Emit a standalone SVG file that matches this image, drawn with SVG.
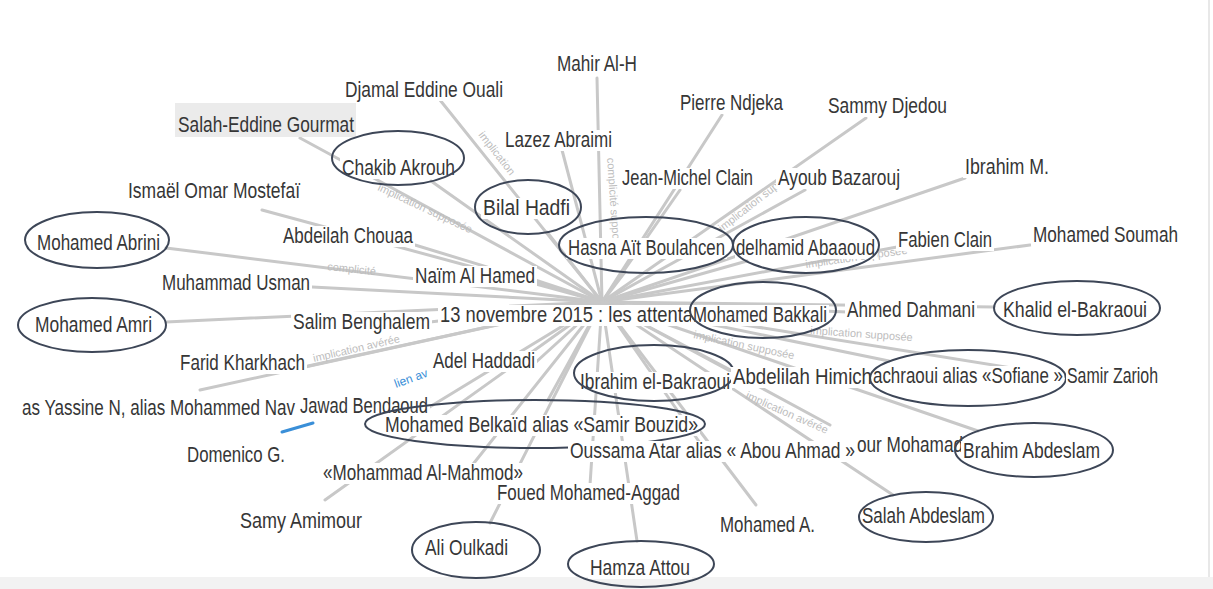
<svg xmlns="http://www.w3.org/2000/svg" width="1213" height="589" viewBox="0 0 1213 589">
<style>
.t{font-family:"Liberation Sans",Arial,sans-serif;font-size:22px;fill:#363636}
.bg{fill:#fff}
.hl{fill:#ebebeb}
.e{fill:none;stroke:#3d4657;stroke-width:2}
.c line{stroke:#c8c8c8;stroke-width:3;stroke-linecap:round}
.c line.b{stroke:#3a8fd8}
.el{font-family:"Liberation Sans",Arial,sans-serif;font-size:11px;fill:#bdbdbd}
.el.b{fill:#3a8fd8;font-size:12px}
</style>
<rect width="1213" height="589" fill="#fff"/>
<rect x="0" y="577" width="1213" height="12" fill="#f2f2f2"/>
<line x1="1209" y1="0" x2="1209" y2="577" stroke="#e8e8e8" stroke-width="2"/>
<g id="connectors" class="c">
<line x1="602" y1="302" x2="300" y2="138"/>
<line x1="602" y1="302" x2="440" y2="100"/>
<line x1="602" y1="302" x2="597" y2="78"/>
<line x1="602" y1="302" x2="562" y2="150"/>
<line x1="602" y1="302" x2="722" y2="115"/>
<line x1="602" y1="302" x2="866" y2="118"/>
<line x1="602" y1="302" x2="680" y2="190"/>
<line x1="602" y1="302" x2="805" y2="190"/>
<line x1="602" y1="302" x2="965" y2="178"/>
<line x1="602" y1="302" x2="262" y2="210"/>
<line x1="602" y1="302" x2="415" y2="245"/>
<line x1="602" y1="302" x2="312" y2="287"/>
<line x1="602" y1="302" x2="430" y2="322"/>
<line x1="602" y1="302" x2="535" y2="280"/>
<line x1="602" y1="302" x2="308" y2="366"/>
<line x1="602" y1="302" x2="535" y2="363"/>
<line x1="602" y1="302" x2="200" y2="390"/>
<line x1="602" y1="302" x2="428" y2="408"/>
<line x1="602" y1="302" x2="470" y2="468"/>
<line x1="602" y1="302" x2="325" y2="500"/>
<line x1="602" y1="302" x2="590" y2="485"/>
<line x1="602" y1="302" x2="700" y2="443"/>
<line x1="602" y1="302" x2="830" y2="425"/>
<line x1="602" y1="302" x2="756" y2="505"/>
<line x1="602" y1="302" x2="740" y2="375"/>
<line x1="602" y1="302" x2="1067" y2="377"/>
<line x1="602" y1="302" x2="847" y2="312"/>
<line x1="602" y1="302" x2="897" y2="247"/>
<line x1="602" y1="302" x2="1030" y2="245"/>
<line x1="602" y1="302" x2="431" y2="181"/>
<line x1="602" y1="302" x2="547" y2="232"/>
<line x1="602" y1="302" x2="625" y2="272"/>
<line x1="602" y1="302" x2="747" y2="261"/>
<line x1="602" y1="302" x2="166" y2="248"/>
<line x1="602" y1="302" x2="166" y2="322"/>
<line x1="602" y1="302" x2="690" y2="306"/>
<line x1="602" y1="302" x2="994" y2="307"/>
<line x1="602" y1="302" x2="634" y2="346"/>
<line x1="602" y1="302" x2="889" y2="361"/>
<line x1="602" y1="302" x2="548" y2="400"/>
<line x1="602" y1="302" x2="490" y2="523"/>
<line x1="602" y1="302" x2="637" y2="541"/>
<line x1="602" y1="302" x2="978" y2="431"/>
<line x1="602" y1="302" x2="893" y2="495"/>
<line class="b" x1="282" y1="432" x2="313" y2="423"/>
</g>
<g id="edge-labels">
<text class="el" transform="translate(327,270) rotate(6)">complicité</text>
<text class="el" transform="translate(314,362) rotate(-13)">implication avérée</text>
<text class="el" transform="translate(377,190) rotate(25)">implication supposée</text>
<text class="el" transform="translate(607,158) rotate(86)">complicité supposée</text>
<text class="el" transform="translate(478,135) rotate(52)">implication</text>
<text class="el" transform="translate(806,268) rotate(-8)">implication supposée</text>
<text class="el" transform="translate(810,334) rotate(4)">implication supposée</text>
<text class="el" transform="translate(745,398) rotate(24)">implication avérée</text>
<text class="el" transform="translate(693,338) rotate(12)">implication supposée</text>
<text class="el" transform="translate(722,232) rotate(-38)">implication suppo</text>
<text class="el b" transform="translate(396,388) rotate(-20)">lien av</text>
</g>
<g id="n-djamal"><rect class="bg" x="343" y="80" width="162" height="21"/><text class="t" x="345" y="97" textLength="158" lengthAdjust="spacingAndGlyphs">Djamal Eddine Ouali</text></g>
<g id="n-salah-eddine"><rect class="hl" x="175" y="103" width="181" height="34"/><text class="t" x="178" y="132" textLength="176" lengthAdjust="spacingAndGlyphs">Salah-Eddine Gourmat</text></g>
<g id="n-mahir"><rect class="bg" x="555" y="54" width="84" height="21"/><text class="t" x="557" y="71" textLength="80" lengthAdjust="spacingAndGlyphs">Mahir Al-H</text></g>
<g id="n-pierre"><rect class="bg" x="678" y="93" width="107" height="21"/><text class="t" x="680" y="110" textLength="103" lengthAdjust="spacingAndGlyphs">Pierre Ndjeka</text></g>
<g id="n-sammy"><rect class="bg" x="826" y="96" width="123" height="21"/><text class="t" x="828" y="113" textLength="119" lengthAdjust="spacingAndGlyphs">Sammy Djedou</text></g>
<g id="n-lazez"><rect class="bg" x="503" y="130" width="111" height="21"/><text class="t" x="505" y="147" textLength="107" lengthAdjust="spacingAndGlyphs">Lazez Abraimi</text></g>
<g id="n-jean-michel"><rect class="bg" x="620" y="168" width="135" height="21"/><text class="t" x="622" y="185" textLength="131" lengthAdjust="spacingAndGlyphs">Jean-Michel Clain</text></g>
<g id="n-ayoub"><rect class="bg" x="776" y="168" width="126" height="21"/><text class="t" x="778" y="185" textLength="122" lengthAdjust="spacingAndGlyphs">Ayoub Bazarouj</text></g>
<g id="n-ibrahim-m"><rect class="bg" x="963" y="157" width="88" height="21"/><text class="t" x="965" y="174" textLength="84" lengthAdjust="spacingAndGlyphs">Ibrahim M.</text></g>
<g id="n-ismael"><rect class="bg" x="126" y="181" width="176" height="21"/><text class="t" x="128" y="198" textLength="172" lengthAdjust="spacingAndGlyphs">Ismaël Omar Mostefaï</text></g>
<g id="n-chakib"><rect class="bg" x="340" y="158" width="117" height="21"/><text class="t" x="342" y="175" textLength="113" lengthAdjust="spacingAndGlyphs">Chakib Akrouh</text><ellipse class="e" cx="398" cy="158" rx="66" ry="27"/></g>
<g id="n-bilal"><rect class="bg" x="481" y="198" width="91" height="21"/><text class="t" x="483" y="215" textLength="87" lengthAdjust="spacingAndGlyphs">Bilal Hadfi</text><ellipse class="e" cx="528" cy="207" rx="53" ry="27"/></g>
<g id="n-abdeilah"><rect class="bg" x="281" y="226" width="134" height="21"/><text class="t" x="283" y="243" textLength="130" lengthAdjust="spacingAndGlyphs">Abdeilah Chouaa</text></g>
<g id="n-hasna"><rect class="bg" x="566" y="238" width="161" height="21"/><text class="t" x="568" y="255" textLength="157" lengthAdjust="spacingAndGlyphs">Hasna Aït Boulahcen</text><ellipse class="e" cx="646" cy="245" rx="87" ry="28"/></g>
<g id="n-abaaoud"><rect class="bg" x="735" y="238" width="142" height="21"/><text class="t" x="736" y="255" textLength="139" lengthAdjust="spacingAndGlyphs">delhamid Abaaoud</text><ellipse class="e" cx="806" cy="245" rx="73" ry="28"/></g>
<g id="n-fabien"><rect class="bg" x="896" y="230" width="98" height="21"/><text class="t" x="898" y="247" textLength="94" lengthAdjust="spacingAndGlyphs">Fabien Clain</text></g>
<g id="n-soumah"><rect class="bg" x="1031" y="225" width="149" height="21"/><text class="t" x="1033" y="242" textLength="145" lengthAdjust="spacingAndGlyphs">Mohamed Soumah</text></g>
<g id="n-abrini"><rect class="bg" x="35" y="233" width="127" height="21"/><text class="t" x="37" y="250" textLength="123" lengthAdjust="spacingAndGlyphs">Mohamed Abrini</text><ellipse class="e" cx="97" cy="240" rx="72" ry="28"/></g>
<g id="n-usman"><rect class="bg" x="160" y="273" width="152" height="21"/><text class="t" x="162" y="290" textLength="148" lengthAdjust="spacingAndGlyphs">Muhammad Usman</text></g>
<g id="n-naim"><rect class="bg" x="413" y="266" width="124" height="21"/><text class="t" x="415" y="283" textLength="120" lengthAdjust="spacingAndGlyphs">Naïm Al Hamed</text></g>
<g id="n-amri"><rect class="bg" x="33" y="315" width="121" height="21"/><text class="t" x="35" y="332" textLength="117" lengthAdjust="spacingAndGlyphs">Mohamed Amri</text><ellipse class="e" cx="92" cy="325" rx="74" ry="27"/></g>
<g id="n-salim"><rect class="bg" x="291" y="312" width="141" height="21"/><text class="t" x="293" y="329" textLength="137" lengthAdjust="spacingAndGlyphs">Salim Benghalem</text></g>
<g id="n-center"><rect class="bg" x="438" y="305" width="257" height="21"/><text class="t" x="440" y="322" textLength="253" lengthAdjust="spacingAndGlyphs">13 novembre 2015 : les attenta</text></g>
<g id="n-bakkali"><rect class="bg" x="691" y="305" width="138" height="21"/><text class="t" x="693" y="322" textLength="134" lengthAdjust="spacingAndGlyphs">Mohamed Bakkali</text><ellipse class="e" cx="763" cy="310" rx="73" ry="28"/></g>
<g id="n-dahmani"><rect class="bg" x="845" y="300" width="132" height="21"/><text class="t" x="847" y="317" textLength="128" lengthAdjust="spacingAndGlyphs">Ahmed Dahmani</text></g>
<g id="n-khalid"><rect class="bg" x="1001" y="300" width="148" height="21"/><text class="t" x="1003" y="317" textLength="144" lengthAdjust="spacingAndGlyphs">Khalid el-Bakraoui</text><ellipse class="e" cx="1077" cy="308" rx="83" ry="27"/></g>
<g id="n-farid"><rect class="bg" x="178" y="353" width="129" height="21"/><text class="t" x="180" y="370" textLength="125" lengthAdjust="spacingAndGlyphs">Farid Kharkhach</text></g>
<g id="n-adel"><rect class="bg" x="431" y="351" width="106" height="21"/><text class="t" x="433" y="368" textLength="102" lengthAdjust="spacingAndGlyphs">Adel Haddadi</text></g>
<g id="n-ibrahim-b"><rect class="bg" x="578" y="372" width="154" height="21"/><text class="t" x="580" y="389" textLength="150" lengthAdjust="spacingAndGlyphs">Ibrahim el-Bakraoui</text><ellipse class="e" cx="654" cy="373" rx="80" ry="28"/></g>
<g id="n-abdelilah"><rect class="bg" x="731" y="367" width="141" height="21"/><text class="t" x="733" y="384" textLength="139" lengthAdjust="spacingAndGlyphs">Abdelilah Himich</text></g>
<g id="n-sofiane"><rect class="bg" x="872" y="366" width="192" height="21"/><text class="t" x="873" y="383" textLength="190" lengthAdjust="spacingAndGlyphs">achraoui alias «Sofiane »</text><ellipse class="e" cx="968" cy="378" rx="98" ry="28"/></g>
<g id="n-zarioh"><rect class="bg" x="1066" y="366" width="94" height="21"/><text class="t" x="1067" y="383" textLength="91" lengthAdjust="spacingAndGlyphs">Samir Zarioh</text></g>
<g id="n-yassine"><rect class="bg" x="20" y="398" width="277" height="21"/><text class="t" x="22" y="415" textLength="273" lengthAdjust="spacingAndGlyphs">as Yassine N, alias Mohammed Nav</text></g>
<g id="n-jawad"><rect class="bg" x="298" y="396" width="132" height="21"/><text class="t" x="300" y="413" textLength="128" lengthAdjust="spacingAndGlyphs">Jawad Bendaoud</text></g>
<g id="n-belkaid"><rect class="bg" x="383" y="415" width="317" height="21"/><text class="t" x="385" y="432" textLength="313" lengthAdjust="spacingAndGlyphs">Mohamed Belkaïd alias «Samir Bouzid»</text><ellipse class="e" cx="535" cy="424" rx="170" ry="24"/></g>
<g id="n-domenico"><rect class="bg" x="185" y="445" width="102" height="21"/><text class="t" x="187" y="462" textLength="98" lengthAdjust="spacingAndGlyphs">Domenico G.</text></g>
<g id="n-mahmod"><rect class="bg" x="321" y="463" width="204" height="21"/><text class="t" x="323" y="480" textLength="200" lengthAdjust="spacingAndGlyphs">«Mohammad Al-Mahmod»</text></g>
<g id="n-oussama"><rect class="bg" x="568" y="441" width="289" height="21"/><text class="t" x="570" y="458" textLength="285" lengthAdjust="spacingAndGlyphs">Oussama Atar alias « Abou Ahmad »</text></g>
<g id="n-our-mohamad"><rect class="bg" x="856" y="435" width="108" height="21"/><text class="t" x="857" y="452" textLength="106" lengthAdjust="spacingAndGlyphs">our Mohamad</text></g>
<g id="n-brahim"><rect class="bg" x="961" y="441" width="141" height="21"/><text class="t" x="963" y="458" textLength="137" lengthAdjust="spacingAndGlyphs">Brahim Abdeslam</text><ellipse class="e" cx="1034" cy="450" rx="79" ry="27"/></g>
<g id="n-foued"><rect class="bg" x="495" y="483" width="187" height="21"/><text class="t" x="497" y="500" textLength="183" lengthAdjust="spacingAndGlyphs">Foued Mohamed-Aggad</text></g>
<g id="n-salah-abdeslam"><rect class="bg" x="860" y="506" width="127" height="21"/><text class="t" x="862" y="523" textLength="123" lengthAdjust="spacingAndGlyphs">Salah Abdeslam</text><ellipse class="e" cx="926" cy="517" rx="67" ry="25"/></g>
<g id="n-samy"><rect class="bg" x="238" y="511" width="126" height="21"/><text class="t" x="240" y="528" textLength="122" lengthAdjust="spacingAndGlyphs">Samy Amimour</text></g>
<g id="n-mohamed-a"><rect class="bg" x="718" y="515" width="99" height="21"/><text class="t" x="720" y="532" textLength="95" lengthAdjust="spacingAndGlyphs">Mohamed A.</text></g>
<g id="n-ali"><rect class="bg" x="423" y="538" width="87" height="21"/><text class="t" x="425" y="555" textLength="83" lengthAdjust="spacingAndGlyphs">Ali Oulkadi</text><ellipse class="e" cx="476" cy="550" rx="64" ry="28"/></g>
<g id="n-hamza"><rect class="bg" x="588" y="558" width="104" height="21"/><text class="t" x="590" y="575" textLength="100" lengthAdjust="spacingAndGlyphs">Hamza Attou</text><ellipse class="e" cx="641" cy="564" rx="73" ry="23"/></g>
</svg>
